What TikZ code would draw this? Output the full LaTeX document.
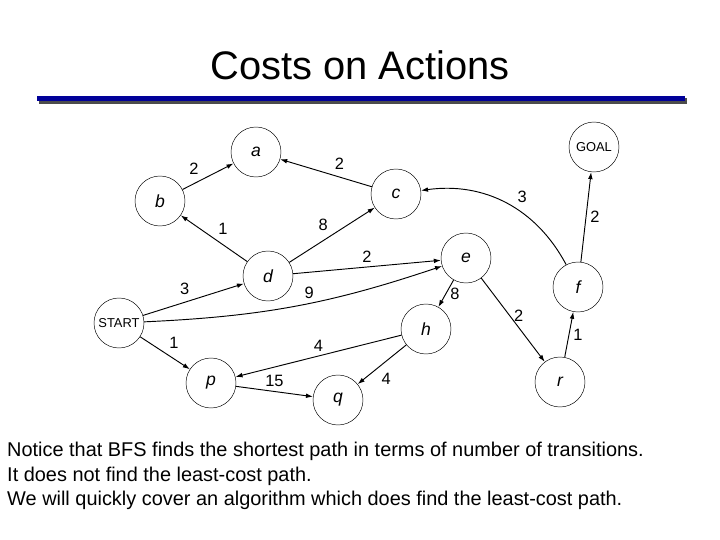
\documentclass[tikz,border=0pt]{standalone}
\usepackage{fontspec}
\setmainfont{Liberation Sans}
\usetikzlibrary{arrows.meta}
\tikzset{
  state/.style={circle,draw,thin,minimum size=1.5cm,inner sep=0pt,font=\fontsize{15}{15}\selectfont\itshape},
  bigstate/.style={state,font=\fontsize{11}{11}\selectfont},
  edge/.style={-{Latex[length=6pt,width=4pt]},thick},
  cost/.style={font=\fontsize{14}{14}\selectfont}
}
\begin{document}
\begin{tikzpicture}[x=0.03cm,y=-0.03cm]
		\useasboundingbox (0,0) rectangle (720,540);
		% Title
		\node at (360,65) {\fontsize{34}{34}\selectfont Costs on Actions};
		\fill[black!70] (39,98) rectangle (687,104);
		\fill[blue!60!black] (37,96) rectangle (685,101);

		% States
		\node[state] (a) at (256,152) {a};
		\node[bigstate] (goal) at (594,147) {GOAL};
		\node[state] (b) at (160,201) {b};
		\node[state] (c) at (396,194) {c};
		\node[state] (d) at (268,276) {d};
		\node[state] (e) at (466,258) {e};
		\node[state] (f) at (578,287) {f};
		\node[bigstate] (start) at (119,323) {START};
		\node[state] (h) at (426,329) {h};
		\node[state] (p) at (211,383) {p};
		\node[state] (q) at (338,400) {q};
		\node[state] (r) at (560,382) {r};

		% Actions
		\draw[edge] (b) -- (a) node[cost,pos=0.4,above left]{2};
		\draw[edge] (c) -- (a) node[cost,pos=0.45,above right]{2};
		\draw[edge] (d) -- (b) node[cost,midway,above right]{1};
		\draw[edge] (d) -- (c) node[cost,midway,above left]{8};
		\draw[edge] (d) -- (e) node[cost,midway,above]{2};
		\draw[edge] (start) -- (d) node[cost,midway,above left]{3};
		\draw[edge] (start) to[bend right=8] node[cost,pos=0.55,above]{9} (e);
		\draw[edge] (e) -- (h) node[cost,midway,right]{8};
		\draw[edge] (e) -- (r) node[cost,pos=0.45,right]{2};
		\draw[edge] (f) to[bend right=35] node[cost,pos=0.45,above right]{3} (c);
		\draw[edge] (f) -- (goal) node[cost,midway,right]{2};
		\draw[edge] (r) -- (f) node[cost,midway,right]{1};
		\draw[edge] (h) -- (p) node[cost,midway,above]{4};
		\draw[edge] (h) -- (q) node[cost,pos=0.6,below right]{4};
		\draw[edge] (p) -- (q) node[cost,midway,above]{15};
		\draw[edge] (start) -- (p) node[cost,midway,above right]{1};

		% Notes
		\node[anchor=north west,align=left,inner sep=0pt,font=\fontsize{17}{21}\selectfont] at (7,442)
		  {Notice that BFS finds the shortest path in terms of number of transitions.\\
		   It does not find the least-cost path.\\
		   We will quickly cover an algorithm which does find the least-cost path.};
	\end{tikzpicture}
\end{document}
